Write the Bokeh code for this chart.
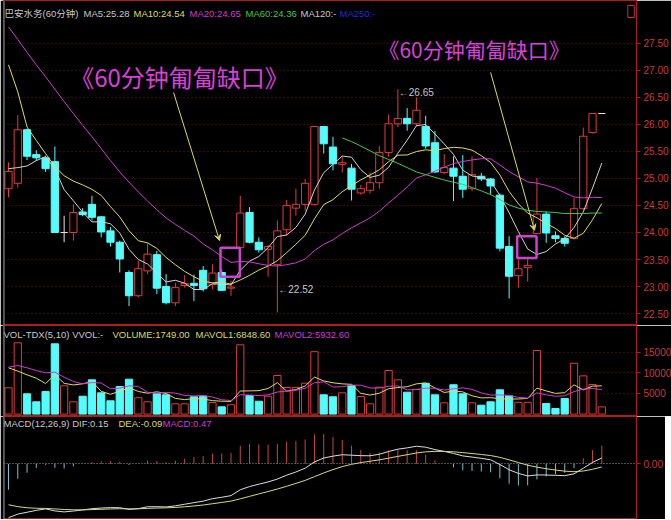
import numpy as np
import pandas as pd
from bokeh.plotting import figure
from bokeh.layouts import column
from bokeh.models import Range1d, FixedTicker, PrintfTickFormatter, Arrow, VeeHead, Span
from bokeh.core.properties import value
from bokeh.embed import file_html
from bokeh.resources import INLINE

# ---------------- data (60-minute bars) ----------------
opens = [24.81, 24.91, 25.90, 25.44, 25.38, 25.31, 24.00, 24.00, 24.38, 24.52,
         24.29, 24.03, 23.82, 23.26, 22.83, 23.29, 23.59, 23.00, 22.70, 23.02,
         23.06, 23.30, 23.04, 23.26, 22.97, 23.72, 24.37, 23.82, 23.69, 23.41,
         24.05, 24.45, 24.52, 24.52, 25.96, 25.58, 25.26, 25.19, 24.73, 24.78,
         24.92, 25.48, 26.01, 26.11, 26.01, 25.96, 25.66, 25.11, 25.19, 25.04,
         24.81, 25.04, 24.99, 24.69, 23.74, 23.20, 23.35, 23.98, 24.34, 23.94,
         23.89, 23.89, 24.44, 25.85, 26.20]
highs = [25.30, 26.17, 25.92, 25.52, 25.42, 25.59, 24.31, 24.52, 24.45, 24.68,
         24.30, 24.10, 23.85, 23.30, 23.48, 23.80, 23.66, 23.23, 23.07, 23.21,
         23.22, 23.38, 23.41, 23.32, 23.11, 24.68, 24.47, 23.91, 23.77, 24.22,
         24.60, 24.81, 24.99, 25.96, 25.96, 25.77, 25.41, 25.27, 24.88, 25.11,
         25.60, 26.18, 26.65, 26.30, 26.50, 26.16, 25.88, 25.45, 25.41, 25.43,
         25.41, 25.10, 25.01, 24.72, 23.93, 23.50, 23.53, 25.01, 24.39, 24.02,
         23.93, 24.64, 25.94, 26.20, 26.20]
lows = [24.65, 24.83, 25.34, 25.32, 25.12, 23.99, 23.82, 23.85, 24.30, 24.22,
        23.91, 23.74, 23.26, 22.64, 22.80, 23.23, 22.86, 22.67, 22.64, 22.98,
        22.73, 22.91, 22.95, 22.92, 22.83, 23.70, 23.80, 23.63, 23.18, 22.52,
        23.94, 24.31, 24.40, 24.50, 25.46, 25.15, 25.11, 24.59, 24.70, 24.72,
        24.81, 25.40, 25.95, 25.88, 25.96, 25.55, 25.10, 25.08, 24.58, 24.64,
        24.76, 24.95, 24.70, 23.65, 22.78, 22.98, 23.09, 23.97, 23.81, 23.82,
        23.74, 23.87, 24.42, 25.83, 26.20]
closes = [25.13, 25.90, 25.41, 25.38, 25.18, 24.00, 24.00, 24.37, 24.33, 24.28,
          24.01, 23.82, 23.51, 22.83, 23.33, 23.60, 22.97, 22.70, 22.98, 23.06,
          23.02, 22.96, 23.25, 22.93, 22.99, 24.36, 23.82, 23.68, 23.74, 24.03,
          24.50, 24.52, 24.91, 25.96, 25.64, 25.27, 25.29, 24.80, 24.81, 24.92,
          25.48, 26.01, 26.11, 26.01, 26.26, 25.60, 25.12, 25.20, 25.04, 24.80,
          25.07, 24.99, 24.86, 23.71, 23.19, 23.33, 23.39, 24.34, 23.99, 23.89,
          23.80, 24.44, 25.78, 26.20, 26.20]
volumes = [6360, 17250, 4910, 2980, 5470, 17010, 6850, 2980, 4330, 8300,
           5150, 3220, 6680, 8450, 3950, 2980, 4910, 4670, 2490, 2490,
           4190, 4330, 2810, 1770, 2250, 16770, 4500, 3120, 4330, 9340,
           6440, 6440, 7480, 15100, 4670, 4190, 5150, 6920, 4260, 2490,
           6500, 10550, 8300, 5300, 5950, 7480, 4670, 2730, 7100, 4910,
           2730, 2150, 2980, 5880, 4430, 2850, 2850, 15400, 2570, 1360,
           3780, 12300, 9250, 7160, 1749]

# moving-average values at the left edge (window reaches before the first visible bar)
ma5_head = [25.18, 25.20, 25.23, 25.33]
ma10_head = [27.10, 26.60, 25.95, 25.70, 25.46, 25.22, 25.05, 24.95, 24.88]
ma20_head = [27.80, 27.57, 27.33, 27.10, 26.88, 26.65, 26.42, 26.20, 25.98, 25.77,
             25.55, 25.33, 25.12, 24.93, 24.75, 24.58, 24.42, 24.27, 24.15]
ma60_start = 36
ma60_vals = [25.75, 25.68, 25.60, 25.51, 25.42, 25.35, 25.28, 25.20, 25.12, 25.07,
             25.02, 24.97, 24.93, 24.89, 24.83, 24.77, 24.70, 24.61, 24.51, 24.45,
             24.41, 24.39, 24.38, 24.37, 24.35, 24.35, 24.35, 24.36, 24.36]
mavol1_head = [11200, 10400, 9500, 8700]
mavol2_head = [11350, 11760, 11200, 10550, 10000, 10140, 8930, 7890, 7330]
# EMA state just before the first visible bar (MACD 12,26,9)
ema12_seed, ema26_seed, dea_seed = 26.20, 27.62, -0.98

price_ticks = [22.5, 23.0, 23.5, 24.0, 24.5, 25.0, 25.5, 26.0, 26.5, 27.0, 27.5]
vol_ticks = [5000, 10000, 15000]

title_main = [("巴安水务(60分钟)", "#c8c8c8"), ("MA5:25.28", "#c8c8c8"), ("MA10:24.54", "#dcdc64"),
              ("MA20:24.65", "#d23cd2"), ("MA60:24.36", "#46c846"), ("MA120:-", "#c8c8c8"),
              ("MA250:-", "#2a2ad8")]
title_vol = [("VOL-TDX(5,10) VVOL:-", "#c8c8c8"), ("VOLUME:1749.00", "#dcdc64"),
             ("MAVOL1:6848.60", "#dcdc64"), ("MAVOL2:5932.60", "#d23cd2")]
title_macd = [("MACD(12,26,9) DIF:0.15", "#c8c8c8"), ("DEA:-0.09", "#dcdc64"), ("MACD:0.47", "#d23cd2")]

note_text = "《60分钟匍匐缺口》"
notes = [(6.65, 26.88, "24px"), (39.9, 27.40, "21px")]          # left x (bar), centre y (price), size
arrows = [(17.8, 26.59, 22.76, 23.85), (52.0, 26.96, 56.74, 24.04)]
gap_boxes = [(22.87, 24.95, 23.72, 23.18), (54.87, 56.96, 23.93, 23.53)]

# ---------------- styling ----------------
RED = "#e03c3c"
CYAN = "#54fcfc"
LINE_RED = "#b01c1c"
GRID_RED = "#701414"
LABEL_RED = "#c83c3c"
FONT = "Liberation Sans, Noto Sans CJK SC"
W = 633
X0, X1 = -0.54, 67.74

o = np.array(opens); h = np.array(highs); l = np.array(lows); c = np.array(closes)
v = np.array(volumes, dtype=float)
N = len(c)
idx = np.arange(N)
up = c > o
dn = c < o
flat = c == o


def ma(series, n, head):
    s = pd.Series(series).rolling(n).mean().to_numpy()
    s[:len(head)] = head
    return s


ma5 = ma(c, 5, ma5_head)
ma10 = ma(c, 10, ma10_head)
ma20 = ma(c, 20, ma20_head)
ma60 = np.full(N, np.nan)
ma60[ma60_start:ma60_start + len(ma60_vals)] = ma60_vals
mavol1 = ma(v, 5, mavol1_head)
mavol2 = ma(v, 10, mavol2_head)

e12, e26, dea = ema12_seed, ema26_seed, dea_seed
dif_l, dea_l = [], []
for cl in c:
    e12 += 2 / 13 * (cl - e12)
    e26 += 2 / 27 * (cl - e26)
    d = e12 - e26
    dea += 2 / 10 * (d - dea)
    dif_l.append(d)
    dea_l.append(dea)
dif_a = np.array(dif_l)
dea_a = np.array(dea_l)
hist = 2 * (dif_a - dea_a)

x_rng = Range1d(X0, X1)


def base_fig(fh, y0, y1, ticks, fmt):
    p = figure(frame_width=W, frame_height=fh, x_range=x_rng, y_range=Range1d(y0, y1),
               output_backend="svg", toolbar_location=None, x_axis_location=None,
               y_axis_location="right", min_border_left=3, min_border_right=0,
               min_border_top=0, min_border_bottom=0,
               background_fill_color="black", border_fill_color="black")
    p.outline_line_color = LINE_RED
    p.xgrid.visible = False
    ax = p.yaxis[0]
    ax.ticker = FixedTicker(ticks=ticks)
    ax.formatter = PrintfTickFormatter(format=fmt)
    ax.axis_line_color = LINE_RED
    ax.major_tick_line_color = LINE_RED
    ax.minor_tick_line_color = None
    ax.major_tick_in = 0
    ax.major_tick_out = 4
    ax.major_label_standoff = 3
    ax.major_label_text_color = LABEL_RED
    ax.major_label_text_font = FONT
    ax.major_label_text_font_size = "10px"
    p.ygrid.grid_line_color = GRID_RED
    p.ygrid.grid_line_dash = "1 3"
    p.add_layout(Span(location=X0 + 0.06, dimension="height", line_color="#8c8c8c", line_width=1))
    return p


def put_titles(p, fh, y0, y1, items, x_px, y_px):
    yd = y1 - y_px / fh * (y1 - y0)
    for (txt, col), xp in zip(items, x_px):
        xd = X0 + xp / W * (X1 - X0)
        p.text(x=[xd], y=[yd], text=[txt], text_color=col, text_font=value(FONT),
               text_font_size="9.5px", text_baseline="middle", text_align="left")


# ---------------- main price panel ----------------
PH, PY0, PY1 = 325, 22.28, 28.29
p1 = base_fig(PH, PY0, PY1, price_ticks, "%.2f")
put_titles(p1, PH, PY0, PY1, title_main, [1, 80, 130, 186, 242, 297, 336], 13)

bw = 0.78
wcol = np.where(up, RED, np.where(dn, CYAN, "#e6e6e6"))
p1.segment(x0=idx, x1=idx, y0=l, y1=h, line_color=list(wcol), line_width=1)
p1.vbar(x=idx[up], width=bw, top=c[up], bottom=o[up], fill_color="black", line_color=RED, line_width=1)
p1.vbar(x=idx[dn], width=bw, top=o[dn], bottom=c[dn], fill_color=CYAN, line_color=CYAN, line_width=1)
p1.segment(x0=idx[flat] - bw / 2, x1=idx[flat] + bw / 2, y0=c[flat], y1=c[flat],
           line_color="#e6e6e6", line_width=1)

p1.line(idx, ma5, line_color="#d2d2d2", line_width=1)
p1.line(idx, ma10, line_color="#dcdc64", line_width=1)
p1.line(idx, ma20, line_color="#d23cd2", line_width=1)
p1.line(idx, ma60, line_color="#46c846", line_width=1)

for (lft, rgt, top, bot) in gap_boxes:
    p1.quad(left=[lft], right=[rgt], top=[top], bottom=[bot], fill_color=None,
            line_color="#cc44cc", line_width=2.5)
for (xs, ys, xe, ye) in arrows:
    p1.add_layout(Arrow(end=VeeHead(size=6, line_color="#d8d868", fill_color="#d8d868"),
                        x_start=xs, y_start=ys, x_end=xe, y_end=ye,
                        line_color="#d8d868", line_width=1))
for (xl, yc, fs) in notes:
    p1.text(x=[xl], y=[yc], text=[note_text], text_color="#d940d9",
            text_font=value("Noto Sans CJK SC"), text_font_size=fs,
            text_baseline="middle", text_align="left")

ppu = PH / (PY1 - PY0)
ih = int(np.argmax(h))
il = int(np.argmin(l))
p1.text(x=[ih + 0.1], y=[h[ih] - 3 / ppu], text=["\u2190%.2f" % h[ih]], text_color="#c8c8c8",
        text_font=value(FONT), text_font_size="10px", text_baseline="middle", text_align="left")
p1.text(x=[il + 0.1], y=[l[il] + 23 / ppu], text=["\u2190%.2f" % l[il]], text_color="#c8c8c8",
        text_font=value(FONT), text_font_size="10px", text_baseline="middle", text_align="left")

# small window icon at the top right
p1.quad(left=[66.8], right=[67.5], top=[PY1 - 5 / ppu], bottom=[PY1 - 17 / ppu],
        fill_color=None, line_color="#c83232", line_width=1)

# ---------------- volume panel ----------------
VH, VY0, VY1 = 91, -580, 21440
p2 = base_fig(VH, VY0, VY1, vol_ticks, "%d")
put_titles(p2, VH, VY0, VY1, title_vol, [0, 109, 192, 271], 9)
vup = c >= o
p2.vbar(x=idx[vup], width=bw, top=v[vup], bottom=0, fill_color="black", line_color=RED, line_width=1)
p2.vbar(x=idx[~vup], width=bw, top=v[~vup], bottom=0, fill_color=CYAN, line_color=CYAN, line_width=1)
p2.line(idx, mavol1, line_color="#dcdc64", line_width=1)
p2.line(idx, mavol2, line_color="#d23cd2", line_width=1)

# ---------------- MACD panel ----------------
MH, MY0, MY1 = 103, -1.447, 1.229
p3 = base_fig(MH, MY0, MY1, [0], "%.2f")
p3.ygrid.grid_line_color = "#9a9a9a"
p3.ygrid.grid_line_dash = "1 2"
put_titles(p3, MH, MY0, MY1, title_macd, [0, 115, 159], 6.7)
hcol = np.where(hist >= 0, "#c84646", "#78c0cc")
p3.segment(x0=idx, x1=idx, y0=np.zeros(N), y1=hist, line_color=list(hcol), line_width=1)
p3.line(idx, dif_a, line_color="#dcdcdc", line_width=1)
p3.line(idx, dea_a, line_color="#d8d880", line_width=1)

layout = column(p1, p2, p3, spacing=0)
open("out.html", "w").write(file_html(layout, INLINE))
